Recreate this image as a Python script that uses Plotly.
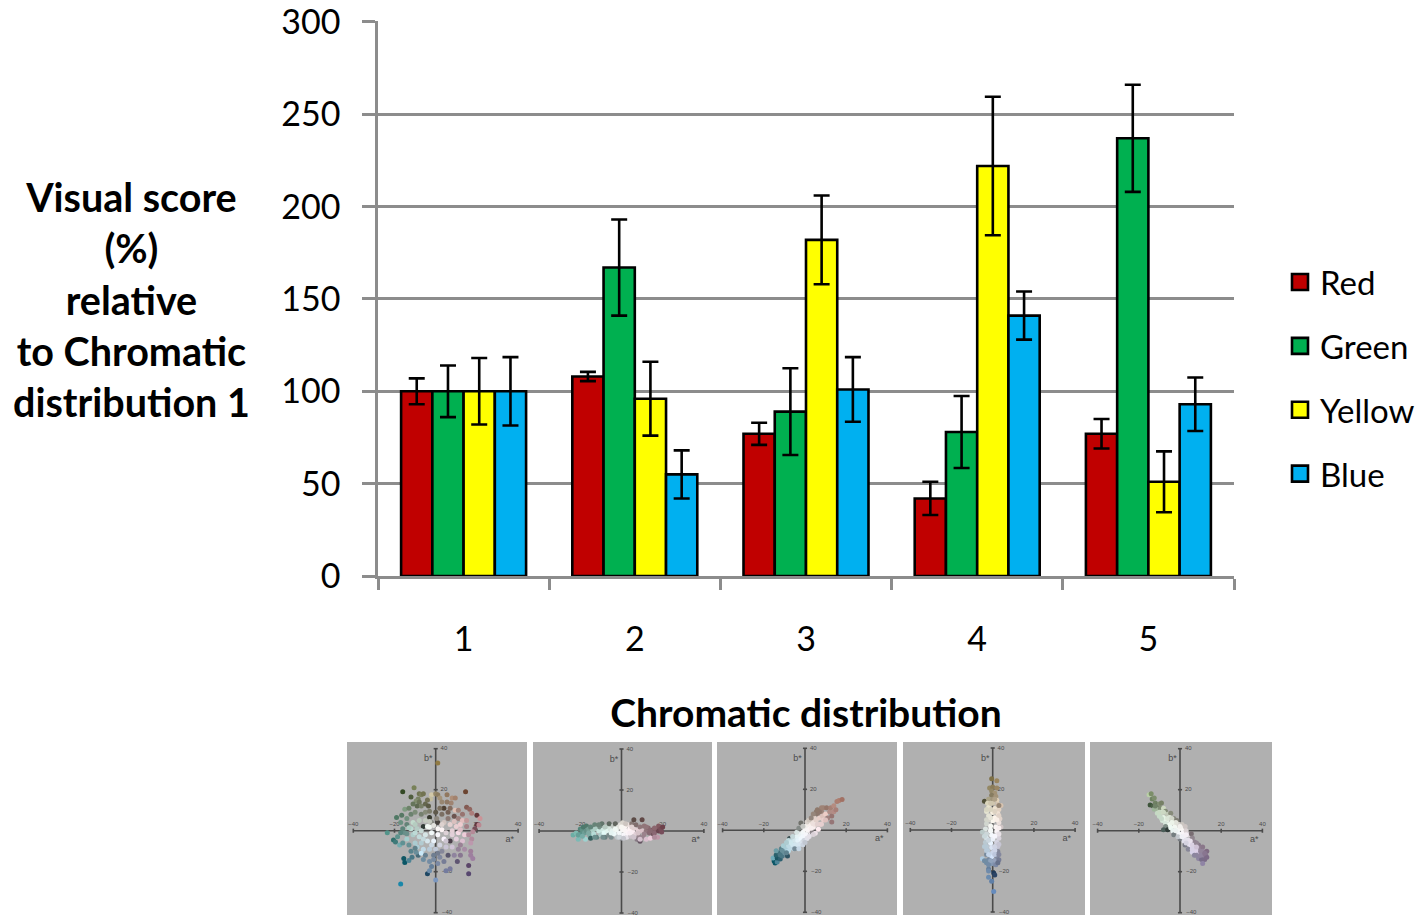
import plotly.graph_objects as go

CATEGORIES = ["1", "2", "3", "4", "5"]
SERIES_NAMES = ["Red", "Green", "Yellow", "Blue"]
RED = [100, 108, 77, 42, 77]
GREEN = [100, 167, 89, 78, 237]
YELLOW = [100, 96, 182, 222, 51]
BLUE = [100, 55, 101, 141, 93]
RED_ERR = [7, 2.5, 6, 9, 8]
GREEN_ERR = [14, 26, 23.5, 19.5, 29]
YELLOW_ERR = [18, 20, 24, 37.5, 16.5]
BLUE_ERR = [18.5, 13, 17.5, 13, 14.5]
COLORS = ["#C00000", "#00B050", "#FFFF00", "#00B0F0"]
Y_TICKS = [0, 50, 100, 150, 200, 250, 300]
LAB_TICKS = [-40, -20, 20, 40]

# Each inset point read as (a*, b*, lightness)
P1 = [(1,33,55),(-16,19,30),(-10.5,21,55),(14.5,19,35),(-12,16.5,40),(-8,18,50),(-7,17.5,55),(-6,18,50),(-8.5,15.5,55),(-9.5,14.5,60),
(-8,14,50),(-9,12,45),(-7,12,55),(-5,13,45),(-3.5,12,40),(-2,17.5,85),(-2.5,15.5,80),(0,18,60),(1,17.5,55),(2,16,65),(5.5,17.5,55),(8,16,65),
(9.5,16,60),(7.5,13.5,60),(5.5,14,55),(3,14,60),(4,11,30),(9.5,10,65),(11,10,60),(15,11.5,45),(16.5,10.5,50),(17.5,8.5,60),(20,7.5,30),(21.5,6,70),
(20,3,30),(21,2.8,65),(19,1,40),(18,-0.5,65),(17.5,-4,65),(17,-6,70),(17,-10,60),(17,-12,60),(18,-13.5,60),(16,-17,35),(16,-21,35),(10.5,-15,40),
(7,-18.5,55),(5,-19.5,55),(0,-24,65),(-4,-21,30),(-3,-19.5,60),(-2,-17.5,55),(-3,-15,60),(-17,-26,55),(-15.5,-13.5,35),(-15,-15.5,35),(-13,-14.5,55),(-11.5,-13,50),
(-8.5,-12,45),(-9.5,-10.5,60),(-20.5,-4.5,45),(-19.5,-5.5,50),(-23.5,-1,60),(-17.5,-7,70),(-18.5,-3,60),(-19,6.5,50),(-16.5,7.5,50),(-15,10.5,65),(-17,4,60),
(-14,6,60),(-12,8,55),(-10,9,60),(-7,8,55),(-5,9,60),(-3,6.5,25),(0,9,40),(3,8,50),(6,9,45),(9,7,40),(11,6,60),(13,5,65),(15,5,70),(12,3,70),
(15,2,60),(10,2,70),(7,3,70),(4,4,65),(1,4,30),(-2,4,60),(-5,5,65),(-8,5,65),(-11,4,70),(-14,3,55),(-12,1,70),(-9,1,65),(-6,2,25),(-4,2,95),(-3,1.8,90),
(-1,2.5,75),(1,1,85),(3,0.5,90),(5,-1,70),(8,0,70),(11,-1,75),(14,-2,70),(13,-5,65),(10,-4,70),(7,-5,30),(4,-4,85),(1,-2,90),(-2,-1,85),(-5,-2,75),(-8,-3,70),
(-11,-2,65),(-14,-4,65),(-16,-6,60),(-13,-7,60),(-10,-6,65),(-7,-6,65),(-4,-5,75),(-1,-5,80),(2,-7,70),(5,-8,65),(8,-8,65),(11,-9,60),(14,-9,65),(12,-12,55),
(9,-12,60),(6,-12,40),(3,-10,60),(0,-9,65),(-3,-9,65),(-6,-9,70),(-9,-8,65),(-12,-10,55),(-7,-11,75),(-5,-12,55),(-1,-12,55),(2,-13,60),(4,-15,55),(1,-16,60),(-1,-14,60),
(-15,-1,60),(-13,1.5,65),(-10,3,65),(-7,0,70),(-3,4.5,65),(0.5,6,60),(3,3,70),(6,6,55),(9,4.5,65),(12,0.5,65),(16,-2,65),(-17,-1,55),(-10,-1,70),(-6,-4,70),(-2,-7,70),
(1,-11,55),(5,-5,65),(8,-2,70),(12,-7,60),(-13,11,55),(-11,13,50),(-3,9.5,55),(2,11,50),(7,11,50),(13,8,55),(-6,-14,60),(-10,-8.5,55),(-14,-1.5,60),(-16,1,55),(-4,15,50)]

P2 = [(-23.5,-2,70),(-22,-1,75),(-21,-4,75),(-20,1,55),(-20,-1.5,60),(-19,0.5,60),(-18.5,2,50),(-18,-1,65),(-17.5,-4,85),(-17,2.5,50),(-17,0,60),(-16,1,65),(-15.5,-2,70),(-15,-3.5,40),
(-14,0.5,65),(-13.5,-1.5,70),(-13,3,55),(-12.5,1,65),(-12,-3,55),(-11,0,75),(-10.5,2,60),(-10,-2,65),(-9.5,3.5,50),(-9,0.5,75),(-8.5,-1,85),(-8,-3,55),(-7,2,70),(-7,0,80),
(-6,3.5,45),(-6,-2,60),(-5.5,1,75),(-5,-3,60),(-4.5,0,80),(-4,2.5,65),(-3.5,-1.5,85),(-3,3.5,45),(-2.5,0.5,85),(-2,-3,65),(-1.5,2,75),(-1,-1,90),(-0.5,3,75),(0,-3.5,60),
(0.5,4,70),(0.5,0.5,92),(1,-2,85),(1.5,2,85),(2,0,92),(2.5,-3,75),(3,3,75),(3,-1,90),(4,1,85),(4.5,-2.5,65),(5,3.5,55),(5.5,-0.5,80),(6,5.5,35),(6,1.5,70),(7,-1.5,70),(7,3,50),
(7.5,-4,55),(8,0.5,70),(8.5,-2.5,60),(9,2,55),(9,-5,40),(10,5.5,35),(10,0,65),(10.5,-3,60),(11,2.5,55),(12,0,55),(12,-4,65),(13,1.5,50),(13.5,-1,50),(14,-3.5,70),
(15,0.5,45),(15.5,-1.5,40),(16,-1,50),(17,1,45),(18,0,35),(18,2.5,45),(19,1,40),(19.5,-0.5,40),(20,2,35),(17.5,-3,70),
(-21,-2,65),(-19,-2.5,70),(-16,-1,70),(-15,2,55),(-13,-3,60),(-11,3,55),(-9,-3,60),(-8,2,65),(-5,-1,80),(-3,1,85),(-1,-3,70),(0,2,85),(1,-3.5,65),(2,3.5,65),(4,-1,80),(5,2,70),(6,-3,65),(8,-1,65),(9,-4,65),(11,-1.5,60),(12,2,55),(14,0,50),(16,1.5,50),(16,-3,65)]

P3 = [(-15,-15,35),(-14.5,-16,35),(-13.5,-15.5,55),(-15.5,-13.5,70),(-13.5,-13.5,35),(-14,-12,40),(-12,-14,40),(-12.5,-11,45),(-11,-12.5,50),(-14,-10,65),(-11.5,-9,55),
(-10,-11,60),(-9.5,-9,65),(-10.5,-7.5,65),(-8.5,-12.5,35),(-8,-10,70),(-8,-7.5,70),(-7.5,-4,35),(-7,-8.5,70),(-6.5,-5,70),(-6,-7,75),(-5.5,-9,70),(-5,-5,75),(-4.5,-7,75),
(-4,-3,80),(-3.5,-5,80),(-3,-7,75),(-2.5,-2,80),(-2,-4,85),(-1.5,-6,75),(-1,-1,85),(-1,-3,85),(-0.5,-5,70),(-2,3.5,50),(0,0.5,85),(0.5,-2,85),(0.5,2,80),(1,-4,75),(1.5,0,90),
(2,3,80),(2.5,1,85),(3,-1,80),(3.5,4,75),(4,1.5,80),(4.5,6,70),(5,3,75),(3.5,-1,60),(6.5,0.5,80),(5,-1.5,75),(5.5,5,70),(6,8,55),(7,6,70),(7.5,3,70),(8,9,60),(8.5,7,65),(9,5,70),
(9,11,60),(10,8,70),(10.5,11,55),(11,6,60),(12,9,65),(12.5,11,60),(13,7,55),(13,4,55),(14,9,65),(14,12,65),(15,10,60),(15.5,14,60),(16.5,14.5,60),(18,15,55),(8,11,60),(5.5,9,55),
(-6,-3,70),(-8,-5,70),(-4,-1,75),(-3,1,60),(-1,2,65),(1,4,70),(2,5,65),(3,6,60),(4,-2,70),(-5,-9,60),(-3,-9,70),(-1,-7,70),(0,-6,65),(2,-3,75),(4,3,75),(6,3,70),(8,3,70),(10,5,65),(7,9,55),(4,8,60),(6,10,55),(3,1,80),(-7,-6,75),(-9,-6,65),(-11,-10,60),(-9,-11,55),(-12,-12,50)]

P4 = [(-0.5,25,50),(2,24,60),(-1.5,20.5,60),(0,21,55),(2,20.5,60),(-0.5,19,60),(1,18,65),(-0.5,17,55),(1.5,16.5,65),(-4,14,35),(-2,15,70),(0,15,65),(2,14.5,70),(-2.5,13,70),(0,13,65),(2.5,12.5,65),
(4,12,65),(-2,11,75),(1,10.5,75),(3,10,70),(-3,9,75),(0,8.5,80),(2.5,8,75),(-2,7,75),(1,6,85),(3.5,5.5,70),(-3,5,70),(0,4.5,85),(3,3.5,75),(-3,3,70),(-1,2,85),(1.5,1.5,90),(4,1.5,65),
(-3.5,0.5,75),(-1,-0.5,90),(2,-0.5,85),(-5,-1,65),(-3,-2,70),(-0.5,-2.5,85),(2.5,-2,80),(-3,-4,75),(0,-4.5,80),(3,-4,70),(-3.5,-6,65),(-1,-6.5,80),(2,-6,70),(-3,-8,65),(-0.5,-8.5,75),(2.5,-8,65),
(-2.5,-10,65),(0,-11,70),(2.5,-10.5,60),(-3,-12,60),(-0.5,-13,75),(2,-13,60),(-2,-14.5,60),(1,-15,70),(3,-14.5,55),(-5,-14,65),(-3,-16,60),(-0.5,-16.5,65),(1.5,-17,60),(2.5,-16,50),(-2,-19,55),
(-2,-20,60),(0.5,-21,25),(1,-22,30),(-2,-23,60),(-0.5,-25,55),(0.5,-30,60),
(-3,10,70),(3,7,70),(-2,5,70),(2,5,80),(-1,0,85),(3,1,80),(-4,-3,70),(3,-2,75),(-2,-5,70),(1,-3,85),(-4,-8,65),(1,-8,70),(3,-7,65),(-3,-10,65),(1,-10,70),(-2,-12,70),(1,-12,65),(3,-12,60),(-1,-15,70),(-4,-15,60),(-2,-17,60),(1,9,70),(-1,13,65),(1,15,70),(-1,10,70),(3,12,60),(-1,6,75)]

P5 = [(-15,17.5,85),(-14,18,60),(-13.5,15.5,55),(-12.5,16,60),(-14.5,12.5,35),(-13,12,40),(-12,13.5,55),(-11,12.5,50),(-10,13,60),(-9,13.5,55),(-12.5,10.5,75),(-11,10.5,75),(-9.5,11,60),
(-8,11,70),(-11,8.5,70),(-9,9,75),(-7,9.5,60),(-10,7,70),(-8,6.5,80),(-6,8,65),(-4.5,8.5,60),(-8.5,5,75),(-6.5,5,80),(-5,6.5,75),(-3,6,60),(-7,3.5,75),(-5,3,85),(-3,4,75),(-1.5,5,55),
(-7,2,60),(-8,0.5,40),(-6,0.5,25),(-4.5,1.5,85),(-2.5,2,85),(-0.5,3,70),(1,3,65),(-3.5,0,80),(-1,0.5,92),(1,1,85),(2.5,2,65),(-3,-2,55),(-0.5,-1.5,85),(1.5,-1,85),(3,0,70),(0,-4,55),
(2,-3,80),(4,-2,70),(5.5,-1.5,50),(2,-5,75),(4,-4.5,75),(6,-3.5,60),(2.5,-7,55),(4.5,-6.5,75),(7,-5.5,60),(5,-8.5,75),(7,-8,70),(9,-7,55),(4,-9,60),(6,-10.5,70),(8,-10,70),(10,-8.5,60),
(11,-8,55),(7,-12,60),(9,-11.5,65),(11,-10,60),(13,-10,50),(9,-13.5,60),(11,-12,60),(12.5,-12,55),(10.5,-14,50),(12,-14,50),(13,-13,50),(11,-16,60),
(-10,9,70),(-8,9,70),(-6,6,75),(-4,6,70),(-2,4,75),(-4,4,80),(-2,0,80),(0,2,80),(-1,-3,65),(1,-3,80),(3,-2,80),(3,-4.5,75),(5,-5,75),(3,-6,70),(6,-7,70),(8,-6,60),(6,-9,70),(8,-8,65),(10,-10,60),(8,-12,60),(10,-12,60),(12,-11,55),(-9,6,70),(-12,12,55)]


def lab_to_css(a, b, L):
    # Pale points near the neutral centre stand out from the grey panel as near-white in the picture.
    if L >= 65 and a * a + b * b < 225:
        L = min(L + 15, 97)
    else:
        L = L * 0.95
    fy = (L + 16) / 116
    fx, fz = fy + a / 500, fy - b / 200
    inv = lambda t: t ** 3 if t > 6 / 29 else 3 * (6 / 29) ** 2 * (t - 4 / 29)
    X, Y, Z = 0.9505 * inv(fx), inv(fy), 1.089 * inv(fz)
    rgb = (3.2406 * X - 1.5372 * Y - 0.4986 * Z,
           -0.9689 * X + 1.8758 * Y + 0.0415 * Z,
           0.0557 * X - 0.2040 * Y + 1.0570 * Z)
    out = []
    for c in rgb:
        c = min(max(c, 0), 1)
        c = 12.92 * c if c <= 0.0031308 else 1.055 * c ** (1 / 2.4) - 0.055
        out.append(round(c * 255))
    return "rgb(%d,%d,%d)" % tuple(out)


W, H = 1417, 915
px = lambda v: v / W
py = lambda v: 1 - v / H
FONT = "Lato"
fig = go.Figure()

for name, vals, errs, color in zip(SERIES_NAMES, [RED, GREEN, YELLOW, BLUE],
                                   [RED_ERR, GREEN_ERR, YELLOW_ERR, BLUE_ERR], COLORS):
    fig.add_bar(x=CATEGORIES, y=vals, name=name, marker=dict(color=color, line=dict(color="black", width=2.6)),
                error_y=dict(type="data", array=errs, color="black", thickness=2.6, width=8),
                showlegend=False, legendgroup=name)
    fig.add_scatter(x=[None], y=[None], mode="markers", name=name, legendgroup=name,
                    marker=dict(symbol="square", size=16, color=color, line=dict(color="black", width=2.6)))

# (points, left, right, top, centre x, centre y) in page pixels of each inset
PANELS = [(P1, 347, 527, 742, 435.7, 830.7), (P2, 533, 712, 742, 621.5, 831),
          (P3, 717, 897, 742, 805, 830.3), (P4, 903, 1085, 742, 992.7, 830),
          (P5, 1090, 1272, 742, 1180, 830.7)]
SX, SY = 2.06, 2.05
layout_axes = {}
shapes = []
for i, (pts, l, r, t, cx, cy) in enumerate(PANELS):
    n = i + 2
    xa, ya = "x%d" % n, "y%d" % n
    layout_axes["xaxis%d" % n] = dict(domain=[px(l), px(r)], range=[(l - cx) / SX, (r - cx) / SX], visible=False, anchor=ya)
    layout_axes["yaxis%d" % n] = dict(domain=[0, py(t)], range=[(cy - 915) / SY, (cy - t) / SY], visible=False, anchor=xa)
    shapes.append(dict(type="rect", xref="%s domain" % xa, yref="%s domain" % ya, x0=0, x1=1, y0=0, y1=1,
                       fillcolor="#B0B0B0", line_width=0, layer="below"))
    lx, ly = [-40, 40, None, 0, 0], [0, 0, None, -40, 40]
    for tk in LAB_TICKS:
        lx += [None, tk, tk, None, -1, 1]
        ly += [None, -1, 1, None, tk, tk]
    fig.add_scatter(x=lx, y=ly, xaxis=xa, yaxis=ya, mode="lines", line=dict(color="#4a4a4a", width=1.6),
                    showlegend=False, hoverinfo="skip")
    tx = LAB_TICKS + [5.5 if v < 0 else 4 for v in LAB_TICKS] + [-3.6, 36]
    ty = [3] * 4 + LAB_TICKS + [35, -4.2]
    ts = [str(v).replace("-", "\u2212") for v in LAB_TICKS] * 2 + ["b*", "a*"]
    fig.add_scatter(x=tx, y=ty, xaxis=xa, yaxis=ya, mode="text", text=ts, showlegend=False, hoverinfo="skip",
                    textfont=dict(family="Liberation Sans", size=[6] * 8 + [9, 9], color="#4a4a4a"))
    fig.add_scatter(x=[p[0] for p in pts], y=[p[1] for p in pts], xaxis=xa, yaxis=ya, mode="markers", showlegend=False,
                    marker=dict(size=5, color=[lab_to_css(*p) for p in pts], line_width=0),
                    hovertemplate="a*=%{x}<br>b*=%{y}<extra></extra>")

fig.update_layout(
    width=W, height=H, margin=dict(l=0, r=0, t=0, b=0, autoexpand=False), paper_bgcolor="white", plot_bgcolor="white",
    barmode="group", bargap=0.27, bargroupgap=0, shapes=shapes,
    font=dict(family=FONT, color="black", size=34),
    xaxis=dict(domain=[px(378), px(1234)], type="category", tickson="boundaries", ticks="outside", ticklen=11, tickwidth=2.6,
               tickcolor="#8c8c8c", showline=True, linecolor="#8c8c8c", linewidth=2.6, showgrid=False, ticklabelstandoff=31,
               tickfont=dict(size=34), anchor="y",
               title=dict(text="<b>Chromatic distribution</b>", font=dict(size=39), standoff=44)),
    yaxis=dict(domain=[py(576), py(21)], range=[0, 300.5], tickvals=Y_TICKS, ticks="outside", ticklen=13, tickwidth=2.6,
               tickcolor="#8c8c8c", showline=True, linecolor="#8c8c8c", linewidth=2.6, gridcolor="#8c8c8c", gridwidth=2.6,
               zeroline=False, ticklabelstandoff=15, ticklabeloverflow="allow", tickfont=dict(size=34), anchor="x"),
    legend=dict(x=px(1280), y=py(254), xanchor="left", yanchor="top", tracegroupgap=18, itemwidth=30,
                font=dict(size=33), bgcolor="rgba(0,0,0,0)", itemclick=False, itemdoubleclick=False),
    annotations=[dict(text="<b>Visual score<br>(%)<br>relative<br>to Chromatic<br>distribution 1</b>",
                      xref="paper", yref="paper", x=px(131), y=py(299), xanchor="center", yanchor="middle",
                      showarrow=False, align="center", font=dict(size=39.5))],
    **layout_axes,
)
fig.write_html("out.html", config=dict(displayModeBar=False), post_script="document.body.style.margin='0';")
